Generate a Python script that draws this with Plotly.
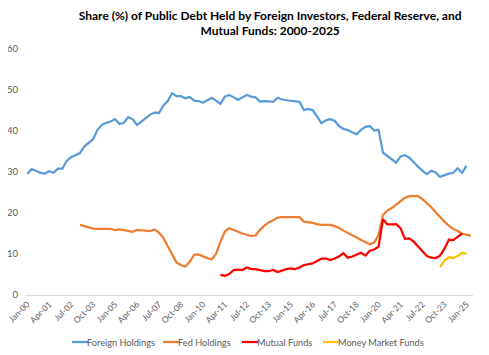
import plotly.graph_objects as go

months = ["Jan", "Apr", "Jul", "Oct"]
years = list(range(2000, 2026))
quarters = [f"{m}-{str(y)[2:]}" for y in years for m in months][:102]

tick_labels = ["Jan-00", "Apr-01", "Jul-02", "Oct-03", "Jan-05", "Apr-06", "Jul-07",
               "Oct-08", "Jan-10", "Apr-11", "Jul-12", "Oct-13", "Jan-15", "Apr-16",
               "Jul-17", "Oct-18", "Jan-20", "Apr-21", "Jul-22", "Oct-23", "Jan-25"]

# Foreign Holdings: Jan-00 .. Jan-25
foreign = [29.5, 30.7, 30.3, 29.8, 29.6, 30.2, 29.8, 30.8, 30.8, 32.7,
           33.6, 34.1, 34.6, 36.2, 37.0, 38.0, 40.3, 41.5, 42.0, 42.3,
           42.9, 41.7, 42.0, 43.4, 42.9, 41.5, 42.3, 43.2, 44.0, 44.5,
           44.4, 46.2, 47.3, 49.2, 48.5, 48.5, 48.0, 48.3, 47.4, 47.3,
           46.9, 47.5, 48.1, 47.4, 46.6, 48.4, 48.8, 48.2, 47.6, 48.2,
           48.8, 48.4, 48.2, 47.2, 47.3, 47.2, 47.1, 48.1, 47.7, 47.5,
           47.4, 47.3, 47.1, 45.1, 45.4, 45.1, 43.5, 41.9, 42.6, 42.9,
           42.5, 41.2, 40.5, 40.2, 39.7, 39.2, 40.3, 41.0, 41.2, 40.1,
           40.3, 34.7, 33.9, 33.0, 32.3, 33.8, 34.1, 33.5, 32.3, 31.3,
           30.3, 29.5, 30.3, 29.9, 28.8, 29.3, 29.6, 29.8, 30.9, 29.8,
           31.5]

# Fed Holdings: Jan-03 .. Apr-25
fed = [17.1, 16.8, 16.5, 16.2, 16.1, 16.1, 16.1, 16.1, 15.8, 16.0,
       15.8, 15.6, 15.4, 15.9, 15.8, 15.7, 15.6, 16.0, 15.2, 13.9,
       11.8, 9.6, 7.9, 7.3, 6.9, 8.1, 9.8, 9.9, 9.4, 9.0,
       8.7, 10.0, 13.0, 15.5, 16.3, 15.8, 15.4, 15.0, 14.7, 14.4,
       14.5, 15.9, 16.9, 17.7, 18.2, 18.9, 19.0, 19.0, 19.0, 19.0,
       19.0, 17.9, 17.8, 17.6, 17.3, 17.1, 17.1, 17.1, 16.8, 16.4,
       15.7, 15.2, 14.5, 14.0, 13.4, 12.9, 12.4, 12.8, 14.6, 19.5,
       20.6, 21.2, 22.0, 22.9, 23.7, 24.1, 24.1, 24.1, 23.4, 22.5,
       21.4, 20.2, 19.0, 17.9, 16.9, 16.1, 15.6, 15.0, 14.7, 14.5]

# Mutual Funds: Jan-11 .. Oct-24
mutual = [4.9, 4.7, 5.1, 6.1, 6.2, 6.1, 6.7, 6.3, 6.3, 6.0,
          5.8, 5.8, 6.1, 5.6, 6.0, 6.3, 6.5, 6.3, 6.7, 7.3,
          7.5, 7.7, 8.3, 8.9, 8.9, 8.5, 8.9, 9.4, 10.2, 9.1,
          9.4, 9.8, 10.3, 9.6, 10.8, 11.1, 11.8, 18.5, 17.2, 17.2,
          17.3, 16.3, 13.7, 13.8, 13.0, 11.8, 10.6, 9.5, 9.1, 9.0,
          9.6, 11.3, 13.5, 13.4, 14.2, 15.0]

# Money Market Funds: Jul-23 .. Jan-25
mmf = [6.8, 8.4, 9.2, 9.0, 9.5, 10.3, 10.1]

series_names = ["Foreign Holdings", "Fed Holdings", "Mutual Funds", "Money Market Funds"]
series_colors = ["#5B9BD5", "#ED7D31", "#FF0000", "#FFC000"]
series_values = [foreign, fed, mutual, mmf]
series_start = [0, 12, 44, 94]

fig = go.Figure()
for name, vals, start, color in zip(series_names, series_values, series_start, series_colors):
    fig.add_trace(go.Scatter(x=quarters[start:start + len(vals)], y=vals, mode="lines",
                             name=name, line=dict(color=color, width=2.25),
                             showlegend=False))

# The page body adds an 8px offset, so the figure is 8px smaller each way.
W, H = 481, 347
L, R, T, B = 17, 16, 41, 60
pw, ph = W - L - R, H - T - B

# Custom legend (Excel-style short line samples) in paper coordinates
leg_line_px = [64, 155, 234, 315]
leg_y_px = 334
ly = (H - B - leg_y_px) / ph
for name, color, px in zip(series_names, series_colors, leg_line_px):
    x0 = (px - L) / pw
    x1 = (px + 16 - L) / pw
    fig.add_shape(type="line", xref="paper", yref="paper", x0=x0, x1=x1, y0=ly, y1=ly,
                  line=dict(color=color, width=2.25))
    fig.add_annotation(xref="paper", yref="paper", x=x1, y=ly,
                       text=name, showarrow=False, xanchor="left", yanchor="middle",
                       borderpad=0, xshift=-2, font=dict(size=9.2, color="#595959"))

fig.update_layout(
    width=W, height=H,
    paper_bgcolor="white", plot_bgcolor="white",
    margin=dict(l=L, r=R, t=T, b=B),
    font=dict(family="Lato, Carlito, sans-serif", size=10, color="#595959"),
    title=dict(
        text="<b>Share (%) of Public Debt Held by Foreign Investors, Federal Reserve, and<br>Mutual Funds: 2000-2025</b>",
        x=0.545, xanchor="center", y=0.966, yanchor="top",
        font=dict(family="Lato, Carlito, sans-serif", size=12, color="#000000"),
    ),
    showlegend=False,
)
fig.update_xaxes(
    type="category", categoryorder="array", categoryarray=quarters,
    range=[-0.5, len(quarters) - 0.5], automargin=False,
    tickmode="array", tickvals=tick_labels, ticktext=tick_labels,
    tickangle=-45, showgrid=False, showline=True, linecolor="#D9D9D9", linewidth=1,
    ticks="", tickfont=dict(size=8.5, color="#595959"), zeroline=False,
)
fig.update_yaxes(
    range=[0, 60], tickvals=[0, 10, 20, 30, 40, 50, 60], showgrid=False,
    showline=False, zeroline=False, ticks="", ticklabelstandoff=6, automargin=False,
    tickfont=dict(size=9.5, color="#595959"),
)

fig.write_html("out.html")
